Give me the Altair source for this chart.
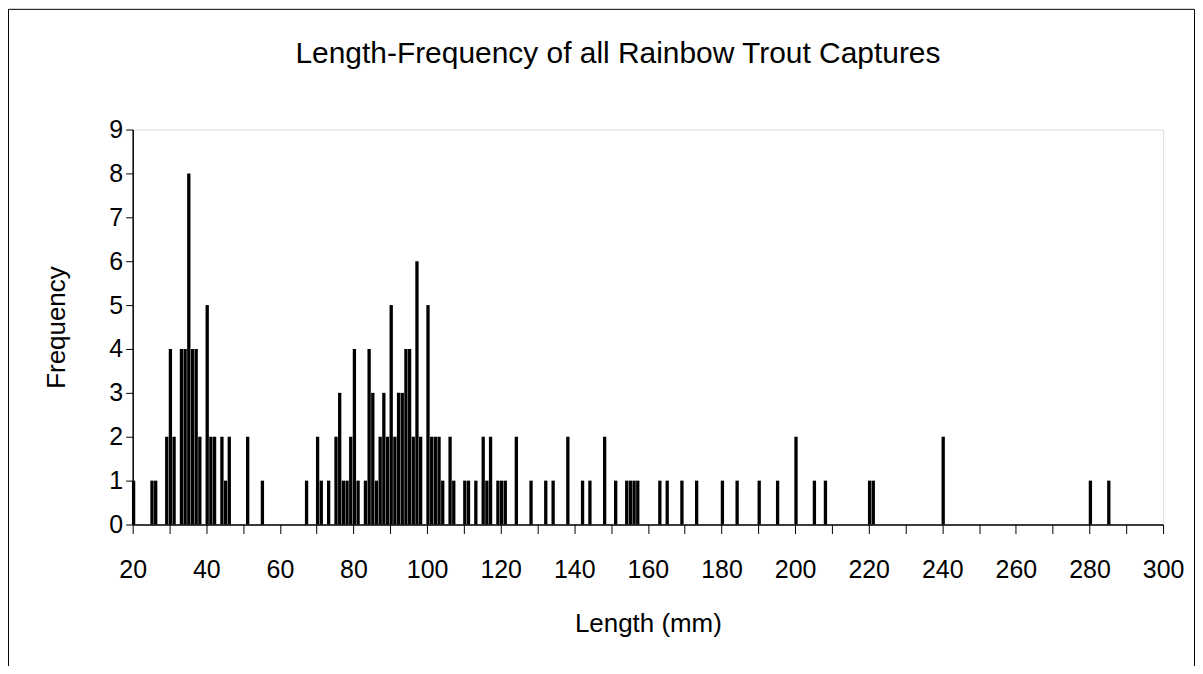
import altair as alt
import pandas as pd

# Lengths (mm) with at least one capture, and how many fish had that length
lengths = [20, 25, 26, 29, 30, 31, 33, 34, 35, 36, 37, 38, 40, 41, 42, 44, 45, 46, 51, 55,
           67, 70, 71, 73, 75, 76, 77, 78, 79, 80, 81, 83, 84, 85, 86, 87, 88, 89, 90, 91,
           92, 93, 94, 95, 96, 97, 98,
           100, 101, 102, 103, 104, 106, 107, 110, 111, 113, 115, 116, 117, 119, 120, 121,
           124, 128,
           132, 134, 138, 142, 144, 148, 151, 154, 155, 156, 157, 163, 165, 169, 173, 180,
           184, 190, 195,
           200, 205, 208, 220, 221, 240, 280, 285]
freqs = [1, 1, 1, 2, 4, 2, 4, 4, 8, 4, 4, 2, 5, 2, 2, 2, 1, 2, 2, 1,
         1, 2, 1, 1, 2, 3, 1, 1, 2, 4, 1, 1, 4, 3, 1, 2, 3, 2, 5, 2,
         3, 3, 4, 4, 2, 6, 2,
         5, 2, 2, 2, 1, 2, 1, 1, 1, 1, 2, 1, 2, 1, 1, 1,
         2, 1,
         1, 1, 2, 1, 1, 2, 1, 1, 1, 1, 1, 1, 1, 1, 1, 1,
         1, 1, 1,
         2, 1, 1, 1, 1, 2, 1, 1]
assert len(lengths) == len(freqs)

x_ticks = list(range(20, 301, 10))
y_ticks = list(range(0, 10))
title_text = "Length-Frequency of all Rainbow Trout Captures"
x_title = "Length (mm)"
y_title = "Frequency"

FONT = "Liberation Sans"
W, H = 1033, 396

df = pd.DataFrame({"Length": lengths, "Frequency": freqs})

bars = alt.Chart(df).transform_calculate(
    x0="datum.Length - 0.2", x1="datum.Length + 0.7"
).mark_bar(color="black").encode(
    x=alt.X("x0:Q",
            scale=alt.Scale(domain=[20, 300], nice=False, zero=False),
            axis=alt.Axis(values=x_ticks,
                          labelExpr="datum.value % 20 === 0 ? datum.label : ''",
                          title=x_title, grid=False, tickSize=9, tickColor="black",
                          tickWidth=1, domainColor="black", domainWidth=1.5,
                          labelFont=FONT, labelFontSize=25, labelColor="black",
                          labelPadding=24, labelFlush=False, labelOverlap=False,
                          titleFont=FONT, titleFontSize=26, titleFontWeight="normal",
                          titleColor="black", titleY=86)),
    x2="x1:Q",
    y=alt.Y("Frequency:Q",
            scale=alt.Scale(domain=[0, 9], nice=False),
            axis=alt.Axis(values=y_ticks, title=y_title, grid=False, tickSize=7,
                          tickColor="black", tickWidth=1, domainColor="black",
                          domainWidth=1.5, labelFont=FONT, labelFontSize=25,
                          labelColor="black", labelPadding=3, labelFlush=False,
                          titleFont=FONT, titleFontSize=26, titleFontWeight="normal",
                          titleColor="black", titleX=-63, titleY=H / 2)),
    y2=alt.datum(0),
)

frame = alt.Chart(pd.DataFrame({"f": [0]})).mark_rect(
    fillOpacity=0, stroke="black", strokeWidth=1
).encode(
    x=alt.value(-124.5), x2=alt.value(W + 31.5),
    y=alt.value(-120.5), y2=alt.value(H + 200),
)

chart = alt.layer(frame, bars).properties(
    width=W, height=H,
    title=alt.TitleParams(text=title_text, font=FONT, fontSize=30,
                          fontWeight="normal", color="black", anchor="middle",
                          dx=-30, dy=60, offset=0),
    autosize=alt.AutoSizeParams(type="none"),
    padding={"left": 125, "top": 121, "right": 32, "bottom": 141},
).configure_view(stroke="#808080", strokeWidth=1).configure(background="white")

chart.save("out.html", embed_options={"renderer": "svg", "actions": False})
